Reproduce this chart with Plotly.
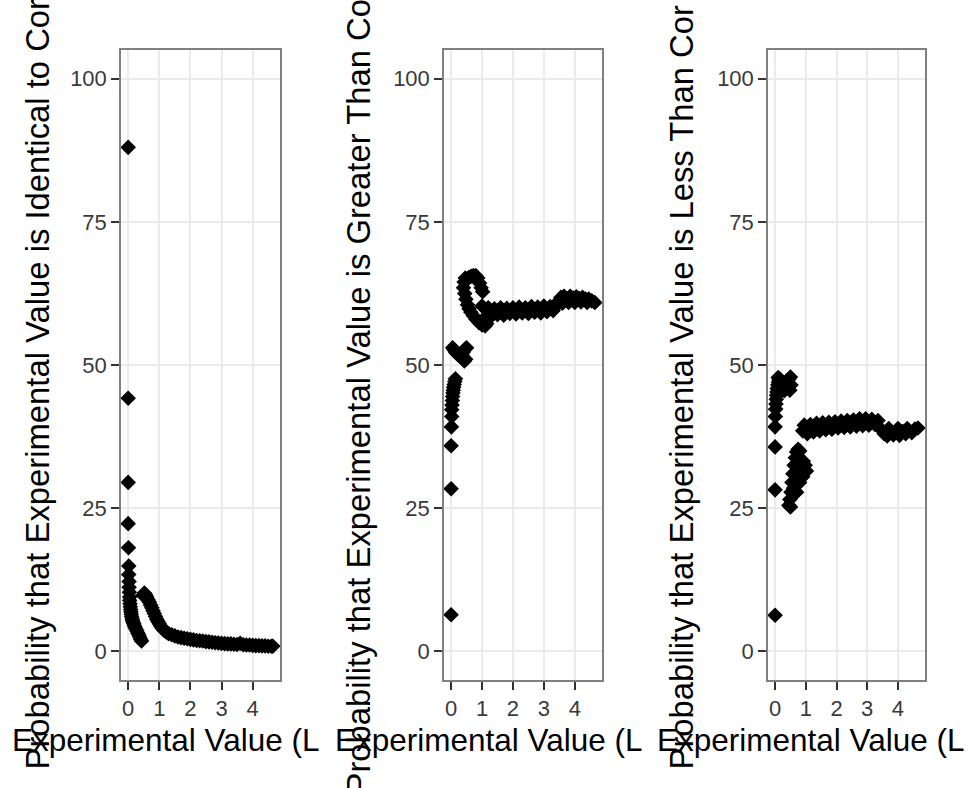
import plotly.graph_objects as go

# ---------------- data ----------------
x_identical = [0.00, 0.00, 0.00, 0.00, 0.01, 0.02, 0.02, 0.03, 0.03, 0.04, 0.05, 0.05, 0.06, 0.07,
               0.08, 0.09, 0.10, 0.11, 0.13, 0.14, 0.16, 0.18, 0.20, 0.22, 0.25, 0.28, 0.31, 0.34,
               0.37, 0.40, 0.43,
               0.48, 0.52, 0.56, 0.60, 0.64, 0.68, 0.72, 0.76, 0.80, 0.84, 0.88, 0.92, 0.96, 1.00,
               1.05, 1.10, 1.15, 1.22,
               1.30, 1.40, 1.50, 1.60, 1.70, 1.80, 1.90, 2.00, 2.10, 2.20, 2.30, 2.40, 2.50, 2.60,
               2.70, 2.80, 2.90, 3.00, 3.10, 3.20, 3.30, 3.40, 3.50, 3.60, 3.70, 3.80, 3.90, 4.00,
               4.10, 4.20, 4.30, 4.40, 4.50, 4.60, 4.65]
y_identical = [88.0, 44.2, 29.5, 22.3, 18.1, 14.9, 13.4, 12.2, 11.2, 10.3, 9.5, 8.9, 8.3, 7.8,
               7.3, 6.9, 6.5, 6.1, 5.7, 5.4, 5.1, 4.8, 4.5, 4.2, 3.9, 3.6, 3.2, 2.9,
               2.5, 2.1, 1.8,
               9.8, 10.2, 9.9, 9.5, 9.0, 8.6, 8.1, 7.6, 7.1, 6.6, 6.1, 5.6, 5.2, 4.8,
               4.4, 4.0, 3.7, 3.4,
               3.1, 2.9, 2.7, 2.5, 2.4, 2.3, 2.2, 2.1, 2.0, 1.9, 1.85, 1.8, 1.7, 1.65,
               1.6, 1.5, 1.45, 1.4, 1.35, 1.3, 1.3, 1.25, 1.2, 1.4, 1.15, 1.1, 1.1, 1.05,
               1.0, 1.0, 0.95, 0.95, 0.9, 0.9, 0.9]

x_greater = [0.00, 0.00, 0.00, 0.01, 0.02, 0.02, 0.03, 0.04, 0.05, 0.06, 0.07, 0.08, 0.10, 0.12, 0.14,
             0.05, 0.10, 0.15, 0.20, 0.25, 0.30, 0.35, 0.40, 0.45, 0.50, 0.47, 0.43,
             0.40, 0.42, 0.46, 0.52, 0.58, 0.65, 0.72, 0.80, 0.86, 0.92, 0.97, 1.02,
             0.44, 0.48, 0.53, 0.58, 0.64, 0.72, 0.80, 0.90, 1.00, 1.10, 1.15,
             1.00, 1.20, 1.40, 1.60, 1.80, 2.00, 2.20, 2.40, 2.60, 2.80, 3.00, 3.20, 3.40,
             1.10, 1.30, 1.50, 1.70, 1.90, 2.10, 2.30, 2.50, 2.70, 2.90, 3.10, 3.30,
             3.45, 3.55, 3.65, 3.75, 3.85, 3.95, 4.05, 4.15, 4.25, 4.35, 4.45, 4.55, 4.65,
             3.60, 3.80, 4.00, 4.20, 4.40]
y_greater = [6.4, 28.4, 35.9, 39.2, 41.0, 42.2, 43.0, 43.8, 44.5, 45.1, 45.6, 46.1, 46.6, 47.1, 47.6,
             53.0, 52.6, 52.2, 51.9, 51.7, 51.5, 51.8, 52.3, 52.8, 53.0, 51.0, 50.7,
             63.5, 64.5, 65.2, 65.0, 65.3, 65.5, 65.6, 65.6, 65.2, 64.3, 63.5, 62.8,
             62.5, 61.5, 60.5, 59.8, 59.2, 58.6, 58.0, 57.4, 57.0, 56.8, 57.2,
             60.3, 60.0, 59.8, 60.0, 59.9, 60.0, 60.1, 60.0, 60.2, 60.1, 60.3, 60.2, 60.4,
             58.3, 58.5, 58.8, 58.7, 59.0, 58.9, 59.1, 59.0, 59.2, 59.1, 59.3, 59.5,
             61.0, 61.8, 62.0, 61.5, 62.0, 61.7, 61.9, 61.6, 61.8, 61.5, 61.5, 61.2, 60.9,
             60.8, 60.9, 60.9, 61.0, 60.9]

x_less = [0.00, 0.00, 0.00, 0.00, 0.01, 0.02, 0.03, 0.04, 0.05, 0.06, 0.07, 0.09, 0.11, 0.13,
          0.10, 0.15, 0.20, 0.25, 0.30, 0.35, 0.40, 0.45, 0.50, 0.52, 0.48, 0.30, 0.22,
          0.45, 0.48, 0.50, 0.52, 0.55, 0.58, 0.62, 0.66, 0.70, 0.75, 0.80,
          0.60, 0.66, 0.72, 0.78, 0.85, 0.92, 0.98, 1.02, 0.90, 0.80, 0.70,
          0.95, 1.15, 1.35, 1.55, 1.75, 1.95, 2.15, 2.35, 2.55, 2.75, 2.95, 3.15, 3.35,
          0.90, 1.05, 1.25, 1.45, 1.65, 1.85, 2.05, 2.25, 2.45, 2.65, 2.85, 3.05, 3.25,
          3.45, 3.55, 3.65, 3.75, 3.85, 3.95, 4.05, 4.15, 4.25, 4.35, 4.45, 4.55, 4.65,
          3.70, 4.00, 4.30]
y_less = [6.3, 28.2, 35.7, 39.2, 41.0, 42.3, 43.2, 44.0, 44.7, 45.3, 45.9, 46.5, 47.0, 47.4,
          47.8, 47.6, 47.2, 46.8, 46.5, 46.6, 47.0, 47.5, 47.9, 46.5, 45.6, 45.5, 45.8,
          25.5, 26.5, 25.2, 27.8, 29.5, 31.0, 32.5, 33.8, 34.8, 35.3, 35.0,
          28.5, 29.8, 31.0, 32.0, 32.8, 33.2, 32.5, 31.5, 30.5, 29.5, 27.8,
          39.5, 39.6, 39.8, 39.9, 40.0, 40.1, 40.2, 40.3, 40.4, 40.6, 40.6, 40.5, 40.3,
          38.5, 38.0, 38.3, 38.5, 38.7, 38.8, 39.0, 39.1, 39.2, 39.3, 39.4, 39.5, 39.6,
          38.8, 38.0, 37.6, 38.3, 37.8, 38.5, 37.7, 38.4, 38.0, 38.6, 38.2, 38.8, 39.0,
          38.9, 38.9, 38.9]

x_ticks = [0, 1, 2, 3, 4]
y_ticks = [0, 25, 50, 75, 100]

y_titles = ["Probability that Experimental Value is Identical to Cor",
            "Probability that Experimental Value is Greater Than Co",
            "Probability that Experimental Value is Less Than Cor"]
x_title = "Experimental Value (L"

# ---------------- layout helpers ----------------
W, H = 968, 788
FONT = "Liberation Sans, Arial, sans-serif"
panels = [(121, 280), (444, 602), (768, 925)]
top_px, bot_px = 50, 680
series = [(x_identical, y_identical), (x_greater, y_greater), (x_less, y_less)]

fig = go.Figure()
for i, ((xs, ys), (l, r)) in enumerate(zip(series, panels)):
    n = "" if i == 0 else str(i + 1)
    fig.add_trace(go.Scatter(
        x=xs, y=ys, mode="markers", xaxis="x" + n, yaxis="y" + n,
        marker=dict(symbol="diamond", size=12, color="black", line=dict(width=0)),
        showlegend=False, hoverinfo="skip"))
    common = dict(showline=True, mirror=True, linecolor="#808080", linewidth=1.5,
                  showgrid=True, gridcolor="#ebebeb", gridwidth=1.5, zeroline=False,
                  ticks="outside", ticklen=8, tickwidth=1.5, tickcolor="#333333",
                  tickfont=dict(family=FONT, size=22, color="#3a3a3a"))
    fig.layout["xaxis" + n] = dict(domain=[l / W, r / W], range=[-0.23, 4.88],
                                   tickvals=x_ticks, anchor="y" + n, **common)
    fig.layout["yaxis" + n] = dict(domain=[1 - bot_px / H, 1 - top_px / H], range=[-5, 105],
                                   tickvals=y_ticks, anchor="x" + n, **common)

annotations = []
ycenter = [37, 358, 681]
ybottom = [772, 797, 772]
for i in range(3):
    annotations.append(dict(text=y_titles[i], xref="paper", yref="paper",
                            x=ycenter[i] / W, y=1 - ybottom[i] / H,
                            xanchor="center", yanchor="bottom", textangle=-90, showarrow=False,
                            font=dict(family=FONT, size=32.8, color="black")))
    annotations.append(dict(text=x_title, xref="paper", yref="paper",
                            x=(10 + i * W / 3) / W, y=1 - 740 / H,
                            xanchor="left", yanchor="middle", showarrow=False,
                            font=dict(family=FONT, size=31.5, color="black")))

fig.update_layout(width=W, height=H, margin=dict(l=0, r=0, t=0, b=0),
                  paper_bgcolor="white", plot_bgcolor="white",
                  annotations=annotations)

fig.write_html("out.html", config={"displayModeBar": False},
               post_script="document.body.style.margin='0px';"
                           "document.documentElement.style.margin='0px';")
